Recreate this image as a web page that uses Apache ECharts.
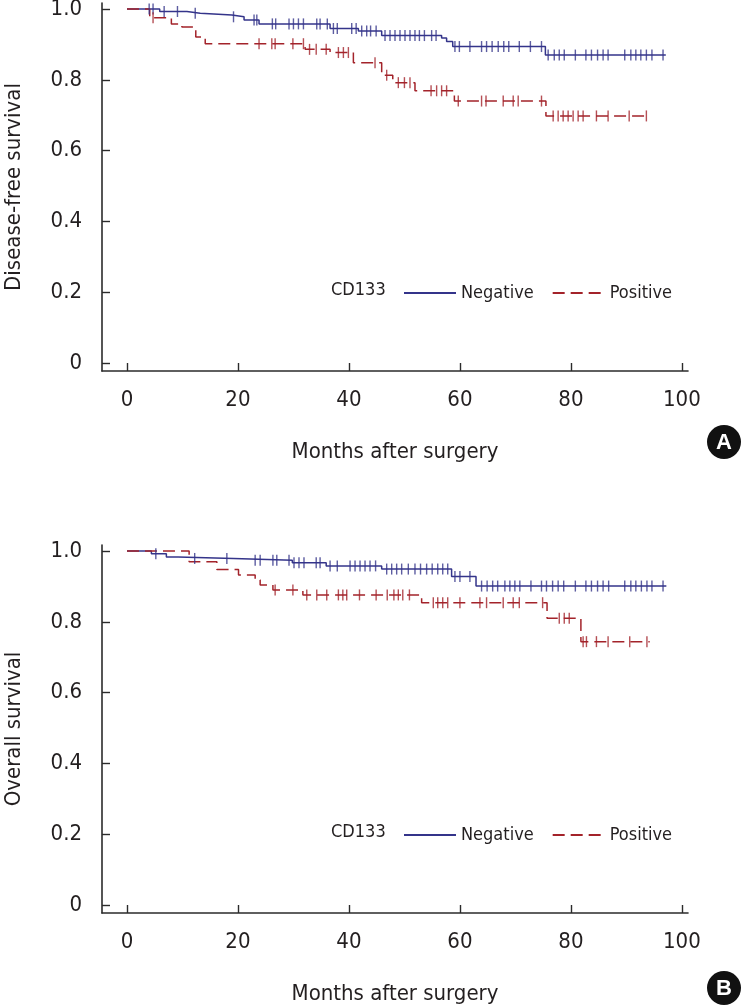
<!DOCTYPE html>
<html>
<head>
<meta charset="utf-8">
<script src="https://cdn.jsdelivr.net/npm/echarts@6/dist/echarts.min.js"></script>
<style>
html,body{margin:0;padding:0;background:#fff;}
#c{width:744px;height:1007px;}
</style>
</head>
<body>
<div id="c"></div>
<script>
// ---------- DATA ----------
const xTicks = [0, 20, 40, 60, 80, 100];
const yTicks = [0, 0.2, 0.4, 0.6, 0.8, 1.0];
const groupTitle = 'CD133';
const seriesNames = ['Negative', 'Positive'];
const panelTitlesY = ['Disease-free survival', 'Overall survival'];
const xTitle = 'Months after surgery';
const panelBadges = ['A', 'B'];

// Panel A (disease-free survival): [months, survival] at each event
const dfsNegSteps = [[0,1.0],[5.9,0.993],[10.8,0.988],[13.2,0.983],[18.9,0.978],[21.1,0.969],[23.8,0.958],[36.6,0.945],[41.7,0.938],[45.9,0.925],[56.7,0.918],[57.6,0.908],[58.7,0.894],[75.4,0.870],[97.1,0.870]];
const dfsNegCensor = [4.0,4.7,6.7,9.1,12.3,19.2,22.9,23.4,26.2,26.8,29.2,30.0,30.9,31.8,34.2,34.8,36.1,37.2,37.9,40.5,41.3,42.3,43.2,43.9,44.9,46.5,47.4,48.3,49.2,50.1,51.0,51.9,52.7,53.6,54.9,55.7,59.1,59.9,61.8,63.9,64.8,65.8,66.9,67.9,68.8,70.7,72.7,74.7,75.9,77.0,77.9,78.8,80.8,82.7,83.7,84.8,85.8,86.7,89.7,90.8,91.7,92.6,93.6,94.6,96.6];
const dfsPosSteps = [[0,1.0],[4.1,0.975],[8.0,0.958],[9.9,0.949],[12.4,0.921],[14.1,0.902],[32.1,0.886],[36.6,0.877],[40.8,0.848],[45.9,0.813],[47.9,0.792],[51.9,0.769],[59.0,0.740],[75.5,0.698],[94.2,0.698]];
const dfsPosCensor = [4.7,23.8,26.1,26.7,29.9,31.8,32.9,34.1,35.9,38.1,39.0,39.9,44.7,46.8,48.9,50.0,51.0,54.8,55.8,56.7,57.6,59.7,63.9,64.7,67.8,69.6,70.5,74.7,76.8,77.7,78.6,79.5,80.4,81.3,82.2,84.6,86.7,90.5,93.6];

// Panel B (overall survival)
const osNegSteps = [[0,1.0],[4.4,0.992],[7.1,0.983],[9.2,0.979],[19.2,0.974],[29.8,0.967],[35.9,0.958],[45.9,0.949],[58.5,0.928],[62.9,0.901],[97.2,0.901]];
const osNegCensor = [5.2,12.2,18.0,23.1,24.0,26.3,27.0,29.2,30.1,31.0,31.9,34.1,34.8,36.6,37.9,40.2,41.1,42.0,42.9,43.8,44.8,46.8,47.7,48.6,49.5,50.7,51.9,52.9,54.0,55.0,56.0,56.9,57.8,59.1,60.0,61.8,63.9,64.9,65.9,66.8,68.1,69.0,69.9,70.8,72.8,74.7,75.6,76.7,77.7,78.7,80.8,82.7,83.7,84.8,85.8,86.8,89.7,90.8,91.7,92.7,93.7,94.6,96.6];
const osPosSteps = [[0,1.0],[11.2,0.970],[16.2,0.948],[20.1,0.932],[23.1,0.918],[24.0,0.904],[26.3,0.890],[31.7,0.876],[53.1,0.854],[75.7,0.810],[81.8,0.744],[94.2,0.744]];
const osPosCensor = [26.7,29.9,32.4,34.2,36.0,38.1,38.9,39.6,41.9,44.9,46.9,48.1,48.9,49.7,50.9,55.2,56.0,56.9,57.8,60.0,63.6,64.8,67.8,69.6,70.7,74.9,77.9,78.8,79.7,82.2,82.8,84.6,86.7,90.6,93.7];

// ---------- STYLE ----------
const FONT = '"DejaVu Sans Condensed", "Liberation Sans", sans-serif';
const TXT = '#231f20';
const AX = '#2b2b2b';
const NEG = '#34348a';
const POS = '#a3232a';

function survAt(steps, t) {
  let s = steps[0][1];
  for (const p of steps) { if (p[0] <= t) s = p[1]; else break; }
  return s;
}
function censorPts(steps, times) { return times.map(t => [t, survAt(steps, t)]); }

const panels = [
  {top: 3, neg: dfsNegSteps, negC: dfsNegCensor, pos: dfsPosSteps, posC: dfsPosCensor},
  {top: 545, neg: osNegSteps, negC: osNegCensor, pos: osPosSteps, posC: osPosCensor}
];
const PLOT_H = 368;

const grids = [], xAxes = [], yAxes = [], series = [], legends = [], graphics = [];
panels.forEach((p, i) => {
  grids.push({left: 102, width: 586, top: p.top, height: PLOT_H, outerBoundsMode: 'none', containLabel: false});
  xAxes.push({
    type: 'value', gridIndex: i, min: -4.5, max: 101.1,
    name: xTitle, nameLocation: 'middle', nameGap: 70,
    nameTextStyle: {fontFamily: FONT, fontSize: 22, color: TXT},
    axisLine: {onZero: false, lineStyle: {color: AX, width: 1.6}},
    axisTick: {inside: true, length: 8, lineStyle: {color: AX, width: 1.4}, customValues: xTicks},
    axisLabel: {customValues: xTicks, margin: 18, fontFamily: FONT, fontSize: 22, color: TXT},
    splitLine: {show: false}
  });
  yAxes.push({
    type: 'value', gridIndex: i, min: -0.0226, max: 1.017,
    name: panelTitlesY[i], nameLocation: 'middle', nameGap: 77, nameRotate: 90,
    nameTextStyle: {fontFamily: FONT, fontSize: 22, color: TXT},
    axisLine: {show: true, onZero: false, lineStyle: {color: AX, width: 1.6}},
    axisTick: {show: true, inside: true, length: 8, lineStyle: {color: AX, width: 1.4}, customValues: yTicks},
    axisLabel: {customValues: yTicks, margin: 20, fontFamily: FONT, fontSize: 22, color: TXT,
      formatter: v => (Math.abs(v) < 1e-9 ? '0' : v.toFixed(1))},
    splitLine: {show: false}
  });
  series.push({
    name: seriesNames[0], type: 'line', step: 'end', xAxisIndex: i, yAxisIndex: i,
    data: p.neg, symbol: 'none', lineStyle: {color: NEG, width: 1.5}, itemStyle: {color: NEG}, z: 3
  });
  series.push({
    name: seriesNames[1], type: 'line', step: 'end', xAxisIndex: i, yAxisIndex: i,
    data: p.pos, symbol: 'none', lineStyle: {color: POS, width: 1.5, type: [12, 6]}, itemStyle: {color: POS}, z: 3
  });
  series.push({
    name: seriesNames[0] + ' censored', type: 'scatter', xAxisIndex: i, yAxisIndex: i,
    data: censorPts(p.neg, p.negC), symbol: 'rect', symbolSize: [1.4, 11], itemStyle: {color: NEG}, z: 4
  });
  series.push({
    name: seriesNames[1] + ' censored', type: 'scatter', xAxisIndex: i, yAxisIndex: i,
    data: censorPts(p.pos, p.posC), symbol: 'rect', symbolSize: [1.4, 11], itemStyle: {color: POS}, z: 4
  });
  const legY = p.top + 288;
  legends.push({
    data: seriesNames, left: 403, top: legY - 7, padding: 0, itemWidth: 52, itemHeight: 14, itemGap: 18,
    itemStyle: {opacity: 0},
    textStyle: {fontFamily: FONT, fontSize: 18, color: TXT},
    selectedMode: false
  });
  graphics.push({
    type: 'text', left: 331, top: legY - 10,
    style: {text: groupTitle, font: '18px ' + FONT, fill: TXT}
  });
  const by = i === 0 ? 442 : 988;
  graphics.push({type: 'circle', shape: {cx: 724, cy: by, r: 17}, style: {fill: '#111'}});
  graphics.push({
    type: 'text', x: 724, y: by + 1,
    style: {text: panelBadges[i], font: 'bold 22px "Liberation Sans", sans-serif', fill: '#fff', align: 'center', verticalAlign: 'middle'}
  });
});

const chart = echarts.init(document.getElementById('c'));
chart.setOption({
  animation: false,
  backgroundColor: '#fff',
  grid: grids, xAxis: xAxes, yAxis: yAxes, series: series, legend: legends, graphic: graphics
});
</script>
</body>
</html>
